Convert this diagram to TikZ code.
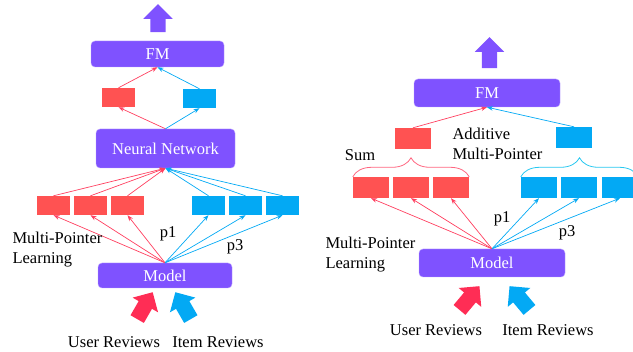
\documentclass[tikz,border=0pt]{standalone}
\usepackage{fontspec}
\setmainfont{Liberation Serif}
\usetikzlibrary{arrows.meta,shapes.arrows,decorations.pathreplacing}

\definecolor{mpurple}{RGB}{127,82,255}
\definecolor{mred}{RGB}{255,82,82}
\definecolor{mredline}{RGB}{255,64,96}
\definecolor{mblue}{RGB}{3,169,244}
\definecolor{mcyan}{RGB}{40,200,240}
\definecolor{mpink}{RGB}{255,45,85}

\begin{document}
\begin{tikzpicture}[x=1pt,y=-1pt,
        font=\fontsize{16.5}{20}\selectfont,
        layer/.style={fill=mpurple,draw=mpurple!55,rounded corners=4pt,
        text=white,inner sep=0pt},
        vecl/.style={inner sep=0pt,minimum width=33pt,minimum height=19pt},
        vecr/.style={inner sep=0pt,minimum width=36pt,minimum height=21pt},
        bigarrow/.style={single arrow,single arrow head extend=7pt,
        inner xsep=0pt,inner ysep=7.5pt,minimum height=31pt},
        redline/.style={draw=mredline,line width=0.7pt,
        -{Stealth[length=6pt,width=4.5pt]}},
        blueline/.style={draw=mblue,line width=0.7pt,
        -{Stealth[length=6pt,width=4.5pt]}},
        sumbrace/.style={line width=0.8pt,decorate,
        decoration={brace,amplitude=19pt}}]
        \useasboundingbox (0,0) rectangle (633,352);

        % left model
        \node[layer,minimum width=133pt,minimum height=26pt] (fmL) at (157.5,54) {FM};
        \node[layer,minimum width=139pt,minimum height=39pt] (nnL) at (165.5,148.5) {Neural Network};
        \node[layer,minimum width=134pt,minimum height=25pt] (modelL) at (165,275.5) {Model};
        \node[vecl,fill=mred] (uL) at (118.5,97.5) {};
        \node[vecl,fill=mblue] (iL) at (199.5,98.5) {};
        \foreach \i/\x in {1/53.5, 2/90.5, 3/127.5}{
            \node[vecl,fill=mred] (uL\i) at (\x,205.5) {};
        }
        \foreach \i/\x in {1/208.5, 2/245.5, 3/282.5}{
            \node[vecl,fill=mblue] (iL\i) at (\x,205.5) {};
        }

        \foreach \i in {1, 2, 3}{
            \draw[redline] (modelL.north) -- (uL\i.south);
            \draw[blueline] (modelL.north) -- (iL\i.south);
            \draw[redline] (uL\i.north) -- (nnL.south);
            \draw[blueline] (iL\i.north) -- (nnL.south);
        }
        \draw[redline] (nnL.north) -- (uL.south);
        \draw[blueline] (nnL.north) -- (iL.south);
        \draw[redline] (uL.north) -- (fmL.south);
        \draw[blueline] (iL.north) -- (fmL.south);

        \node[bigarrow,fill=mpurple,rotate=90,minimum height=28pt] (outL) at (158,22) {};
        \node[bigarrow,fill=mpink,rotate=60] (userL) at (143,309) {};
        \node[bigarrow,fill=mblue,rotate=120] (itemL) at (185,309) {};

        \node[align=left,anchor=west] (mplL) at (9,250) {Multi-Pointer\\Learning};
        \node (p1L) at (168,234) {p1};
        \node (p3L) at (235,247) {p3};
        \node (urL) at (114,342) {User Reviews};
        \node (irL) at (218,342) {Item Reviews};

        % right model
        \node[layer,minimum width=146pt,minimum height=28pt] (fmR) at (487,93) {FM};
        \node[layer,minimum width=146pt,minimum height=28pt] (modelR) at (492,263) {Model};
        \node[vecr,fill=mred] (uR) at (413,138.5) {};
        \node[vecr,fill=mblue] (iR) at (574,137.5) {};
        \foreach \i/\x in {1/371, 2/411, 3/451}{
            \node[vecr,fill=mred] (uR\i) at (\x,187.5) {};
        }
        \foreach \i/\x in {1/539, 2/579, 3/620}{
            \node[vecr,fill=mblue] (iR\i) at (\x,187.5) {};
        }

        \foreach \i in {1, 2, 3}{
            \draw[redline] (modelR.north) -- (uR\i.south);
            \draw[blueline] (modelR.north) -- (iR\i.south);
        }
        \draw[redline] (uR.north) -- (fmR.south);
        \draw[blueline] (iR.north) -- (fmR.south);

        % sum braces
        \draw[sumbrace,mredline!80] (uR1.north west) -- (uR3.north east);
        \draw[sumbrace,mcyan] (iR1.north west) -- (iR3.north east);

        \node[bigarrow,fill=mpurple,rotate=90] (outR) at (489.5,56.5) {};
        \node[bigarrow,fill=mpink,rotate=50] (userR) at (467,301) {};
        \node[bigarrow,fill=mblue,rotate=130] (itemR) at (522,301) {};

        \node (sumR) at (360,155) {Sum};
        \node[align=left,anchor=west] (addR) at (449,144) {Additive\\Multi-Pointer};
        \node[align=left,anchor=west] (mplR) at (322,255) {Multi-Pointer\\Learning};
        \node (p1R) at (502,219) {p1};
        \node (p3R) at (567,233) {p3};
        \node (urR) at (436,330) {User Reviews};
        \node (irR) at (548,330) {Item Reviews};
    \end{tikzpicture}
\end{document}
